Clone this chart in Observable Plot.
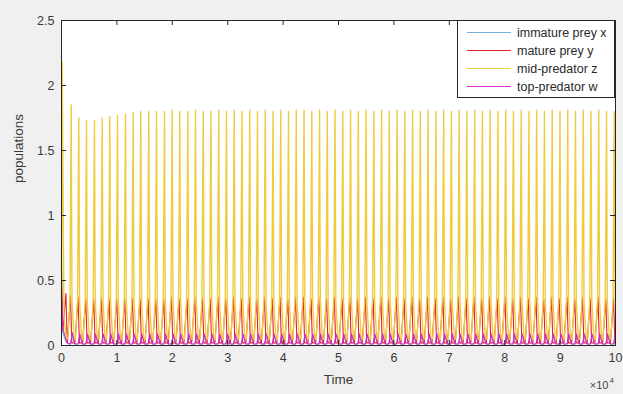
<!DOCTYPE html>
<html><head><meta charset="utf-8">
<script src="https://cdn.jsdelivr.net/npm/d3@7"></script>
<script src="https://cdn.jsdelivr.net/npm/@observablehq/plot@0.6"></script>
<style>
html,body{margin:0;padding:0;background:#f0f0f0;}
#wrap{position:relative;width:623px;height:394px;font-family:"Liberation Sans",Arial,sans-serif;}
#legend{position:absolute;left:457px;top:20px;width:158px;height:78px;background:#fff;border:1px solid #262626;box-sizing:border-box;}
.line{position:absolute;left:9px;width:44px;height:0;border-top:1.3px solid;}
.txt{position:absolute;left:59px;font-size:12.5px;line-height:16px;color:#2a2a2a;white-space:nowrap}
</style></head>
<body>
<div id="wrap"><div id="chart"></div><div id="legend"></div></div>
<script>
// ---- data ----
const seriesNames = ["immature prey x", "mature prey y", "mid-predator z", "top-predator w"];
const seriesColors = ["#74b4dc", "#e41e2a", "#f0cb3c", "#d42ac8"];
const xTicks = [0, 10000, 20000, 30000, 40000, 50000, 60000, 70000, 80000, 90000, 100000];
const yTicks = [0, 0.5, 1, 1.5, 2, 2.5];

// initial transient (time, value)
const startT = {x: [0, 200, 800, 1300], y: [0, 250, 800, 1000], z: [0, 120, 450, 900], w: [0, 300, 900, 1300]};
const startV = {x: [0.7, 0.1, 0.03, 0.01], y: [0.5, 0.12, 0.4, 0.05], z: [0.35, 2.18, 0.2, 0.06], w: [0.38, 0.12, 0.03, 0.015]};

// times of the mid-predator spikes
const spikeT = [
  1750, 3120, 4510, 5950, 7350, 8720, 10110, 11550, 12940, 14310,
  15760, 17150, 18590, 19980, 21350, 22800, 24190, 25580, 26980, 28380,
  29780, 31180, 32580, 33980, 35380, 36780, 38180, 39580, 40980, 42380,
  43780, 45180, 46580, 47980, 49380, 50780, 52180, 53580, 54980, 56380,
  57780, 59180, 60580, 61980, 63380, 64780, 66180, 67580, 68980, 70380,
  71780, 73180, 74580, 75980, 77380, 78780, 80180, 81580, 82980, 84380,
  85780, 87180, 88580, 89980, 91380, 92780, 94180, 95580, 96980, 98380,
  99780
];
const zPeak = [
  1.85, 1.75, 1.73, 1.73, 1.75, 1.76, 1.77, 1.78, 1.79, 1.80,
  1.80, 1.80, 1.80, 1.81, 1.80, 1.80, 1.81, 1.80, 1.80, 1.81,
  1.80, 1.81, 1.80, 1.81, 1.80, 1.81, 1.80, 1.81, 1.80, 1.81,
  1.81, 1.80, 1.81, 1.80, 1.81, 1.80, 1.81, 1.80, 1.81, 1.80,
  1.81, 1.80, 1.81, 1.80, 1.81, 1.80, 1.81, 1.80, 1.81, 1.80,
  1.81, 1.80, 1.81, 1.80, 1.81, 1.80, 1.81, 1.80, 1.81, 1.80,
  1.81, 1.80, 1.81, 1.80, 1.81, 1.80, 1.81, 1.80, 1.81, 1.80,
  1.80
];
const yPeak = [
  0.38, 0.37, 0.36, 0.36, 0.36, 0.36, 0.36, 0.36, 0.36, 0.36,
  0.36, 0.36, 0.36, 0.37, 0.36, 0.36, 0.37, 0.36, 0.36, 0.37,
  0.36, 0.37, 0.36, 0.37, 0.36, 0.37, 0.36, 0.37, 0.36, 0.37,
  0.37, 0.36, 0.37, 0.36, 0.37, 0.36, 0.37, 0.36, 0.37, 0.36,
  0.37, 0.36, 0.37, 0.36, 0.37, 0.36, 0.37, 0.36, 0.37, 0.36,
  0.37, 0.36, 0.37, 0.36, 0.37, 0.36, 0.37, 0.36, 0.37, 0.36,
  0.37, 0.36, 0.37, 0.36, 0.37, 0.36, 0.37, 0.36, 0.37, 0.36,
  0.36
];
const wPeak = [
  0.10, 0.09, 0.09, 0.09, 0.09, 0.09, 0.09, 0.09, 0.09, 0.09,
  0.09, 0.09, 0.09, 0.09, 0.09, 0.09, 0.09, 0.09, 0.09, 0.09,
  0.09, 0.09, 0.09, 0.09, 0.09, 0.09, 0.09, 0.09, 0.09, 0.09,
  0.09, 0.09, 0.09, 0.09, 0.09, 0.09, 0.09, 0.09, 0.09, 0.09,
  0.09, 0.09, 0.09, 0.09, 0.09, 0.09, 0.09, 0.09, 0.09, 0.09,
  0.09, 0.09, 0.09, 0.09, 0.09, 0.09, 0.09, 0.09, 0.09, 0.09,
  0.09, 0.09, 0.09, 0.09, 0.09, 0.09, 0.09, 0.09, 0.09, 0.09,
  0.09
];
const xPeak = [
  0.08, 0.08, 0.08, 0.08, 0.08, 0.08, 0.08, 0.08, 0.08, 0.08,
  0.08, 0.08, 0.08, 0.08, 0.08, 0.08, 0.08, 0.08, 0.08, 0.08,
  0.08, 0.08, 0.08, 0.08, 0.08, 0.08, 0.08, 0.08, 0.08, 0.08,
  0.08, 0.08, 0.08, 0.08, 0.08, 0.08, 0.08, 0.08, 0.08, 0.08,
  0.08, 0.08, 0.08, 0.08, 0.08, 0.08, 0.08, 0.08, 0.08, 0.08,
  0.08, 0.08, 0.08, 0.08, 0.08, 0.08, 0.08, 0.08, 0.08, 0.08,
  0.08, 0.08, 0.08, 0.08, 0.08, 0.08, 0.08, 0.08, 0.08, 0.08,
  0.08
];
// shape of one cycle around each spike (time offset, value; null = that cycle's peak)
const cycleShape = {
  x: {dt: [-100, 180, 650], v: [0.012, null, 0.012]},
  y: {dt: [-700, -130, 110], v: [0.02, null, 0.02]},
  z: {dt: [-600, -220, 0, 140, 520], v: [0.05, 0.36, null, 0.34, 0.05]},
  w: {dt: [-100, 180, 650], v: [0.012, null, 0.012]}
};
const peaks = {x: xPeak, y: yPeak, z: zPeak, w: wPeak};

function buildSeries(key) {
  const rows = startT[key].map((t, i) => ({t, v: startV[key][i]}));
  const s = cycleShape[key];
  spikeT.forEach((tp, i) => {
    s.dt.forEach((dt, j) => {
      const t = tp + dt;
      if (t <= 100000) rows.push({t, v: s.v[j] === null ? peaks[key][i] : s.v[j]});
    });
  });
  return rows;
}
const keys = ["x", "y", "z", "w"];
const data = keys.map(buildSeries);

const font = '"Liberation Sans", Arial, sans-serif';
const chart = Plot.plot({
  width: 623, height: 394,
  marginLeft: 61, marginRight: 8, marginTop: 20, marginBottom: 49,
  style: {background: "transparent", fontFamily: font, fontSize: "12px", color: "#3a3a3a"},
  x: {domain: [0, 100000]},
  y: {domain: [0, 2.5]},
  marks: [
    Plot.frame({fill: "white", stroke: "none"}),
    ...data.map((rows, i) => Plot.line(rows, {x: "t", y: "v", stroke: seriesColors[i], strokeWidth: i === 2 ? 1.4 : 1.1})),
    Plot.axisX(xTicks, {tickSize: 0, tickPadding: 8, tickFormat: d => String(d / 1e4), label: null, fontSize: 12.5}),
    Plot.axisY(yTicks, {tickSize: 0, tickPadding: 7, tickFormat: d => String(d), label: null, fontSize: 12.5}),
    Plot.tickX(xTicks, {x: d => d, insetTop: 320, stroke: "#262626"}),
    Plot.tickX(xTicks, {x: d => d, insetBottom: 320, stroke: "#262626"}),
    Plot.tickY(yTicks, {y: d => d, insetRight: 549, stroke: "#262626"}),
    Plot.tickY(yTicks, {y: d => d, insetLeft: 549, stroke: "#262626"}),
    Plot.frame({stroke: "#262626", strokeWidth: 1}),
    Plot.text(["Time"], {text: d => d, frameAnchor: "bottom", dy: 38, fontSize: 13.5, fill: "#3a3a3a"}),
    Plot.text(["populations"], {text: d => d, frameAnchor: "left", dx: -43, rotate: -90, fontSize: 13.5, fill: "#3a3a3a"}),
    Plot.text(["×10"], {text: d => d, frameAnchor: "bottom-right", dx: -7, dy: 43, textAnchor: "end", fontSize: 11, fill: "#444"}),
    Plot.text(["4"], {text: d => d, frameAnchor: "bottom-right", dx: -6, dy: 37, textAnchor: "start", fontSize: 8, fill: "#444"})
  ]
});
document.getElementById("chart").appendChild(chart);

const legend = document.getElementById("legend");
const rowCenters = [12, 30, 48, 66];
seriesNames.forEach((name, i) => {
  const l = document.createElement("div");
  l.className = "line";
  l.style.top = (rowCenters[i] - 1) + "px";
  l.style.borderTopColor = seriesColors[i];
  legend.appendChild(l);
  const t = document.createElement("div");
  t.className = "txt";
  t.style.top = (rowCenters[i] - 8) + "px";
  t.textContent = name;
  legend.appendChild(t);
});
</script>
</body></html>
